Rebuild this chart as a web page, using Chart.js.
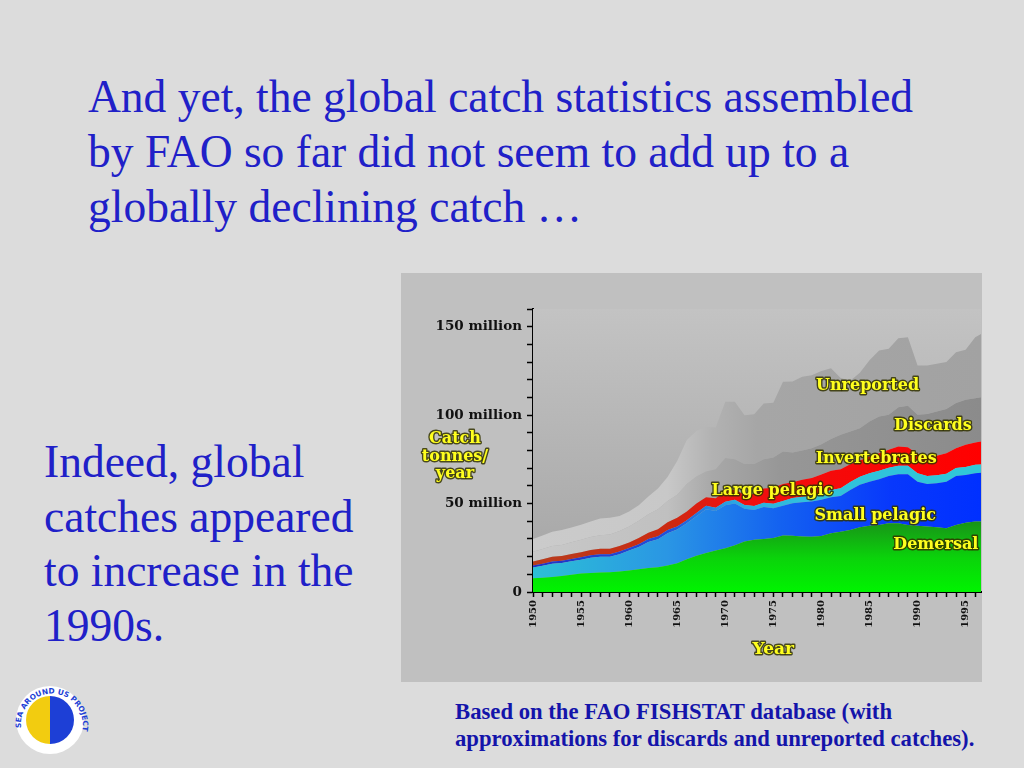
<!DOCTYPE html>
<html>
<head>
<meta charset="utf-8">
<script src="https://cdn.jsdelivr.net/npm/chart.js@4"></script>
<style>
  html,body{margin:0;padding:0}
  body{width:1024px;height:768px;background:#dcdcdc;position:relative;overflow:hidden;font-family:"Liberation Serif","Times New Roman",serif}
  #title{position:absolute;left:88px;top:69px;font-size:45.5px;line-height:55px;color:#2020c8;white-space:nowrap}
  #side{position:absolute;left:44px;top:435px;font-size:45.5px;line-height:54.7px;color:#2020c8;white-space:nowrap}
  #caption{position:absolute;left:455px;top:698px;font-size:22.7px;line-height:27px;font-weight:bold;color:#1414aa;white-space:nowrap}
  #panel{position:absolute;left:401px;top:273px;width:581px;height:409px;background:#c0c0c0}
  #panel canvas{position:absolute;left:0;top:0}
  #logo{position:absolute;left:12px;top:678px}
</style>
</head>
<body>
<div id="title">And yet, the global catch statistics assembled<br>by FAO so far did not seem to add up to a<br>globally declining catch …</div>
<div id="side">Indeed, global<br>catches appeared<br>to increase in the<br>1990s.</div>
<div id="caption">Based on the FAO FISHSTAT database (with<br>approximations for discards and unreported catches).</div>
<svg id="logo" width="80" height="84" viewBox="0 0 80 84">
  <defs>
    <path id="arc" d="M 9 50 A 31 31 0 1 1 64 66"/>
  </defs>
  <circle cx="38" cy="42" r="34" fill="#ffffff"/>
  <path d="M 38 18 A 24 24 0 0 0 38 66 Z" fill="#f2cc10"/>
  <path d="M 38 18 A 24 24 0 0 1 38 66 Z" fill="#1d3fd6"/>
  <text font-family="DejaVu Sans" font-weight="bold" font-size="7.4" fill="#1d3fd6"><textPath href="#arc">SEA AROUND US PROJECT</textPath></text>
</svg>
<div id="panel"><canvas id="c" width="581" height="409"></canvas></div>
<script>
const years = [1950,1951,1952,1953,1954,1955,1956,1957,1958,1959,
               1960,1961,1962,1963,1964,1965,1966,1967,1968,1969,
               1970,1971,1972,1973,1974,1975,1976,1977,1978,1979,
               1980,1981,1982,1983,1984,1985,1986,1987,1988,1989,
               1990,1991,1992,1993,1994,1995,1996,1997];
// million tonnes per year, per layer
const demersal = [7.8,8.1,8.5,9.0,9.7,10.4,10.8,11.0,11.2,11.6,
                  12.2,12.8,13.5,14.0,15.0,16.2,18.5,20.5,22.0,23.5,
                  24.8,26.5,28.5,29.5,30.0,30.5,32.0,31.8,31.4,31.2,
                  31.7,33.2,34.1,35.1,36.6,37.4,37.9,38.9,38.9,37.9,
                  37.4,37.0,36.6,36.0,37.9,39.2,39.8,40.0];
const smallPelagic = [6.0,6.7,7.5,7.4,7.7,7.8,8.6,8.9,8.7,9.8,
                      11.2,12.6,14.8,15.8,18.2,19.1,20.3,22.3,24.8,22.3,
                      24.2,23.5,18.5,16.8,18.0,16.9,16.7,18.4,19.4,19.9,
                      20.4,20.4,20.2,22.6,24.0,25.0,25.9,26.7,27.7,28.7,
                      25.0,24.1,24.9,26.4,27.7,27.0,27.4,27.5];
const largePelagic = [1.2,1.2,1.3,1.3,1.3,1.4,1.4,1.4,1.4,1.5,
                      1.5,1.6,1.6,1.7,1.8,1.8,1.8,1.9,1.9,1.9,
                      2.0,2.1,2.2,2.3,2.4,2.5,2.7,2.9,3.1,3.3,
                      3.7,4.0,4.3,4.5,4.6,4.7,4.7,4.7,4.8,4.8,
                      4.8,4.5,4.5,4.5,4.5,4.5,4.7,4.8];
const invertebrates = [2.3,2.5,2.7,2.6,2.8,2.9,3.0,3.2,3.2,3.1,
                       3.1,3.5,3.6,4.0,4.5,4.9,4.9,5.3,4.8,5.3,
                       6.0,5.9,5.8,6.9,8.1,9.1,9.6,8.9,9.6,10.1,
                       10.7,11.0,10.8,10.0,9.1,9.5,10.0,10.1,10.8,10.5,
                       10.8,11.4,11.0,11.6,11.2,12.5,12.6,13.2];
const discards = [5.5,5.8,6.0,6.3,6.6,7.0,7.3,7.6,8.0,8.5,
                  9.0,9.8,10.5,11.3,12.0,13.0,15.5,15.3,14.6,16.4,
                  18.7,17.1,17.3,16.9,16.6,17.0,18.4,16.8,16.5,16.8,
                  17.0,17.9,19.5,18.5,18.3,19.8,20.7,19.8,22.3,23.4,
                  22.2,23.6,25.0,24.9,25.5,25.5,25.1,25.0];
const unreported = [7.2,7.7,8.0,8.4,8.4,8.5,8.7,9.4,9.5,8.5,
                    8.5,8.7,10.0,11.7,13.5,19.0,25.0,25.7,25.3,23.6,
                    31.8,32.4,27.7,28.1,31.5,31.0,39.4,40.2,41.7,41.3,
                    41.5,40.0,32.1,28.8,31.4,34.6,37.3,37.3,39.0,38.7,
                    27.8,27.4,27.0,26.6,28.7,28.3,34.4,36.5];
const yTickLabels = {0:'0', 50:'50 million', 100:'100 million', 150:'150 million'};
const seriesNames = ['Demersal','Small pelagic','Large pelagic','Invertebrates','Discards','Unreported'];
// label anchor [year, million]
const labelAnchors = [[1991.9,26.6],[1985.6,43.0],[1974.9,57.2],[1985.7,75.3],[1991.6,93.9],[1984.8,116.6]];

function hGrad(stops){
  return (ctx) => {
    const ch = ctx.chart, a = ch.chartArea;
    if (!a) return stops[0][1];
    const g = ch.ctx.createLinearGradient(a.left, 0, a.right, 0);
    stops.forEach(s => g.addColorStop(s[0], s[1]));
    return g;
  };
}
function greenGrad(ctx){
  const ch = ctx.chart, a = ch.chartArea;
  if (!a) return '#00ee00';
  const ys = ch.scales.y;
  const g = ch.ctx.createLinearGradient(0, ys.getPixelForValue(0), 0, ys.getPixelForValue(42));
  g.addColorStop(0, '#00f400');
  g.addColorStop(0.45, '#0ad40a');
  g.addColorStop(1, '#1a8c1a');
  return g;
}
const fills = [
  greenGrad,
  hGrad([[0,'#2cc0d6'],[0.3,'#2a96e4'],[0.55,'#1462f0'],[0.8,'#0838fc'],[1,'#0030ff']]),
  hGrad([[0,'#2230c4'],[0.3,'#2050dc'],[0.45,'#2aa8e2'],[0.6,'#30c0dc'],[1,'#30c8d8']]),
  hGrad([[0,'#b83c1c'],[0.3,'#cc2a12'],[0.45,'#f01010'],[1,'#ff0000']]),
  hGrad([[0,'#c8c8c8'],[0.3,'#c0c0c0'],[0.4,'#a8a8a8'],[0.55,'#979797'],[1,'#8b8b8b']]),
  hGrad([[0,'#cbcbcb'],[0.3,'#c8c8c8'],[0.4,'#b2b2b2'],[0.5,'#a6a6a6'],[1,'#a2a2a2']])
];
const seriesValues = [demersal, smallPelagic, largePelagic, invertebrates, discards, unreported];

const datasets = seriesValues.map((vals, i) => ({
  label: seriesNames[i],
  data: years.map((yr, k) => ({x: yr, y: vals[k]})),
  backgroundColor: fills[i],
  borderWidth: 0,
  borderColor: 'rgba(0,0,0,0)',
  pointRadius: 0,
  tension: 0,
  fill: i === 0 ? 'origin' : '-1'
}));

function glowText(c, txt, x, y){
  c.save();
  c.lineJoin = 'round';
  c.strokeStyle = 'rgba(50,50,0,0.85)';
  c.lineWidth = 2.8;
  c.strokeText(txt, x, y);
  c.fillStyle = '#ffff1e';
  c.fillText(txt, x, y);
  c.restore();
}

const decor = {
  id: 'decor',
  beforeDatasetsDraw(ch){
    const a = ch.chartArea, c = ch.ctx;
    const g = c.createLinearGradient(0, a.top, 0, a.bottom);
    g.addColorStop(0, '#c3c3c3');
    g.addColorStop(1, '#a4a4a4');
    c.save();
    c.fillStyle = g;
    c.fillRect(a.left, a.top, a.right - a.left, a.bottom - a.top);
    c.restore();
  },
  afterDatasetsDraw(ch){
    const c = ch.ctx, xs = ch.scales.x, ys = ch.scales.y;
    c.save();
    c.font = 'bold 16px "DejaVu Serif"';
    c.textAlign = 'center';
    c.textBaseline = 'middle';
    labelAnchors.forEach((p, i) => {
      glowText(c, seriesNames[i], xs.getPixelForValue(p[0]), ys.getPixelForValue(p[1]));
    });
    // axis titles
    glowText(c, 'Catch', 54, 166);
    glowText(c, 'tonnes/', 54, 184);
    glowText(c, 'year', 54, 201);
    c.font = 'bold 17px "DejaVu Serif"';
    glowText(c, 'Year', xs.getPixelForValue(1975), 377);
    c.restore();
  }
};

new Chart(document.getElementById('c'), {
  type: 'line',
  data: { datasets },
  options: {
    responsive: false,
    animation: false,
    devicePixelRatio: 1,
    layout: { padding: { top: 36, right: 1, left: 0, bottom: 0 } },
    plugins: { legend: { display: false }, tooltip: { enabled: false }, title: { display: false } },
    elements: { line: { borderWidth: 0 } },
    scales: {
      x: {
        type: 'linear',
        min: 1950, max: 1996.6,
        afterFit: s => { s.height = 90; s.paddingRight = 0; s.paddingLeft = 0; },
        grid: { drawOnChartArea: false, drawTicks: true, tickLength: 5, tickColor: '#000', tickWidth: 1.5 },
        border: { display: true, color: '#000', width: 2 },
        ticks: {
          stepSize: 1, autoSkip: false, includeBounds: false,
          minRotation: 90, maxRotation: 90, padding: 3,
          color: '#111', font: { family: 'DejaVu Serif', weight: 'bold', size: 10 },
          callback: v => (v % 5 === 0 ? String(v) : '')
        }
      },
      y: {
        type: 'linear',
        stacked: true,
        min: 0, max: 160,
        afterFit: s => { s.width = 132; s.paddingTop = 0; s.paddingBottom = 0; },
        grid: { drawOnChartArea: false, drawTicks: true, tickLength: 6, tickColor: '#000', tickWidth: 1.5 },
        border: { display: true, color: '#000', width: 2 },
        ticks: {
          stepSize: 10, autoSkip: false, padding: 5,
          color: '#111', font: { family: 'DejaVu Serif', weight: 'bold', size: 13.5 },
          callback: v => (yTickLabels[v] !== undefined ? yTickLabels[v] : '')
        }
      }
    }
  },
  plugins: [decor]
});
</script>
</body>
</html>
